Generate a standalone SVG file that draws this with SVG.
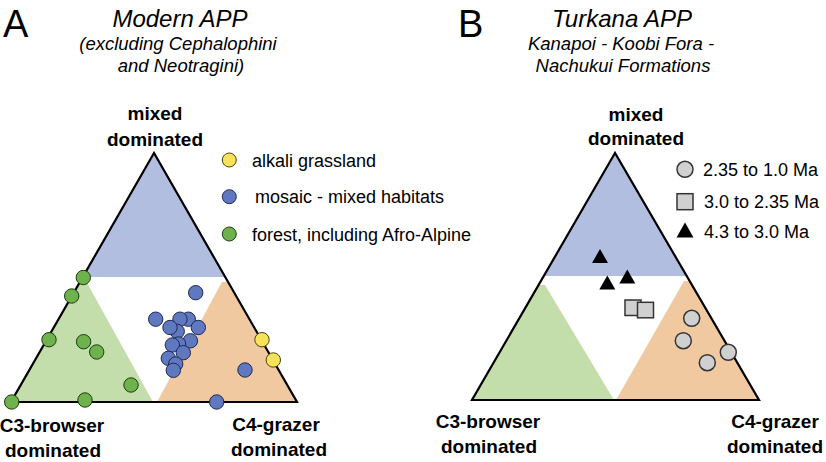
<svg xmlns="http://www.w3.org/2000/svg" width="826" height="462" viewBox="0 0 826 462">
<style>
.panel{font-family:"Liberation Sans",Arial,sans-serif;font-size:38px;fill:#000}
.title{font-family:"Liberation Sans",Arial,sans-serif;font-style:italic;font-size:24px;fill:#000;text-anchor:middle}
.sub{font-family:"Liberation Sans",Arial,sans-serif;font-style:italic;font-size:18.5px;fill:#000;text-anchor:middle}
.lab{font-family:"Liberation Sans",Arial,sans-serif;font-weight:bold;font-size:19px;fill:#000;text-anchor:middle}
.leg{font-family:"Liberation Sans",Arial,sans-serif;font-size:18px;fill:#000}
.tri{fill:none;stroke:#000;stroke-width:2.2;stroke-linejoin:miter}
.rb{fill:#b2bee0}
.rg{fill:#c4deab}
.ro{fill:#f1c9a0}
.pb{fill:#5f78c0;stroke:#1e2a50;stroke-width:1}
.pg{fill:#6db24c;stroke:#1e3a10;stroke-width:1}
.py{fill:#f7e35a;stroke:#4a4210;stroke-width:1}
.pe{fill:#d0d0d0;stroke:#333;stroke-width:1.5}
.pt{fill:#000}
</style>

<g id="panelA">
  <text class="panel" x="3" y="37">A</text>
  <text class="title" x="180" y="27">Modern APP</text>
  <text class="sub" x="178" y="50">(excluding Cephalophini</text>
  <text class="sub" x="181" y="72">and Neotragini)</text>

  <g id="A-regions">
    <polygon class="rb" points="154,153 82.8,277 225.2,277"/>
    <polygon class="rg" points="11,402 80,282 86.5,282 153,402"/>
    <polygon class="ro" points="157,402 222,282 228,282 297,402"/>
  </g>
  <polygon id="A-triangle" class="tri" points="154,153 11,402 297,402"/>

  <text class="lab" x="155" y="120">mixed</text>
  <text class="lab" x="155" y="146">dominated</text>
  <text class="lab" x="52" y="431.5">C3-browser</text>
  <text class="lab" x="53" y="456.5">dominated</text>
  <text class="lab" x="276" y="431">C4-grazer</text>
  <text class="lab" x="279" y="456">dominated</text>

  <g id="A-legend">
    <circle class="py" cx="229.3" cy="160" r="7"/>
    <text class="leg" x="252" y="166.5">alkali grassland</text>
    <circle class="pb" cx="229.3" cy="196.7" r="7"/>
    <text class="leg" x="255" y="203">mosaic - mixed habitats</text>
    <circle class="pg" cx="229.3" cy="234" r="7"/>
    <text class="leg" x="252" y="240.5">forest, including Afro-Alpine</text>
  </g>

  <g id="A-green">
    <circle class="pg" cx="83.3" cy="277.5" r="7.2"/>
    <circle class="pg" cx="71.7" cy="296" r="7.2"/>
    <circle class="pg" cx="49" cy="339.7" r="7.2"/>
    <circle class="pg" cx="83.6" cy="341.7" r="7.2"/>
    <circle class="pg" cx="96.7" cy="352" r="7.2"/>
    <circle class="pg" cx="131" cy="385" r="7.2"/>
    <circle class="pg" cx="11.7" cy="402" r="7.2"/>
    <circle class="pg" cx="85" cy="400" r="7.2"/>
  </g>
  <g id="A-blue">
    <circle class="pb" cx="195.7" cy="292.7" r="7.2"/>
    <circle class="pb" cx="155.7" cy="319.2" r="7.2"/>
    <circle class="pb" cx="188.3" cy="319.2" r="7.2"/>
    <circle class="pb" cx="180" cy="319.2" r="7.2"/>
    <circle class="pb" cx="198.3" cy="327.5" r="7.2"/>
    <circle class="pb" cx="177.2" cy="331.4" r="7.2"/>
    <circle class="pb" cx="170" cy="327.5" r="7.2"/>
    <circle class="pb" cx="190.4" cy="340.8" r="7.2"/>
    <circle class="pb" cx="178.6" cy="344" r="7.2"/>
    <circle class="pb" cx="172.3" cy="345" r="7.2"/>
    <circle class="pb" cx="183.3" cy="352.7" r="7.2"/>
    <circle class="pb" cx="168.3" cy="358.3" r="7.2"/>
    <circle class="pb" cx="175.7" cy="364" r="7.2"/>
    <circle class="pb" cx="173.3" cy="370.3" r="7.2"/>
    <circle class="pb" cx="245" cy="370" r="7.2"/>
    <circle class="pb" cx="216.7" cy="402" r="7.2"/>
  </g>
  <g id="A-yellow">
    <circle class="py" cx="262" cy="339.7" r="7.2"/>
    <circle class="py" cx="273.3" cy="360" r="7.2"/>
  </g>
</g>

<g id="panelB">
  <text class="panel" x="458" y="37">B</text>
  <text class="title" x="622" y="27">Turkana APP</text>
  <text class="sub" x="621" y="50">Kanapoi - Koobi Fora -</text>
  <text class="sub" x="623" y="72">Nachukui Formations</text>

  <g id="B-regions">
    <polygon class="rb" points="615,153 543.5,276 686.5,276"/>
    <polygon class="rg" points="472,400 538.5,285 545,285 614,400"/>
    <polygon class="ro" points="616,400 684,281 689.5,281 759,400"/>
  </g>
  <polygon id="B-triangle" class="tri" points="615,153 472,400 759,400"/>

  <text class="lab" x="636" y="120.5">mixed</text>
  <text class="lab" x="636" y="145">dominated</text>
  <text class="lab" x="488" y="428">C3-browser</text>
  <text class="lab" x="489" y="452.5">dominated</text>
  <text class="lab" x="775" y="428">C4-grazer</text>
  <text class="lab" x="775" y="452.5">dominated</text>

  <g id="B-legend">
    <circle class="pe" cx="685" cy="169.3" r="8"/>
    <text class="leg" x="703" y="176">2.35 to 1.0 Ma</text>
    <rect class="pe" x="677" y="193.7" width="16" height="16"/>
    <text class="leg" x="704" y="208.3">3.0 to 2.35 Ma</text>
    <polygon class="pt" points="685,222.5 693.5,237.5 676.5,237.5"/>
    <text class="leg" x="704" y="237.5">4.3 to 3.0 Ma</text>
  </g>

  <g id="B-triangles">
    <polygon class="pt" points="600,249 608,263 592,263"/>
    <polygon class="pt" points="627.3,269.5 635.3,283.5 619.3,283.5"/>
    <polygon class="pt" points="607.3,275.5 615.3,289.5 599.3,289.5"/>
  </g>
  <g id="B-squares">
    <rect class="pe" x="625" y="300" width="16" height="15.5"/>
    <rect class="pe" x="637.5" y="302.3" width="16" height="15.5"/>
  </g>
  <g id="B-circles">
    <circle class="pe" cx="691.7" cy="318.3" r="8"/>
    <circle class="pe" cx="683.3" cy="340.7" r="8"/>
    <circle class="pe" cx="728.3" cy="352.3" r="8"/>
    <circle class="pe" cx="707.3" cy="362.7" r="8"/>
  </g>
</g>
</svg>
